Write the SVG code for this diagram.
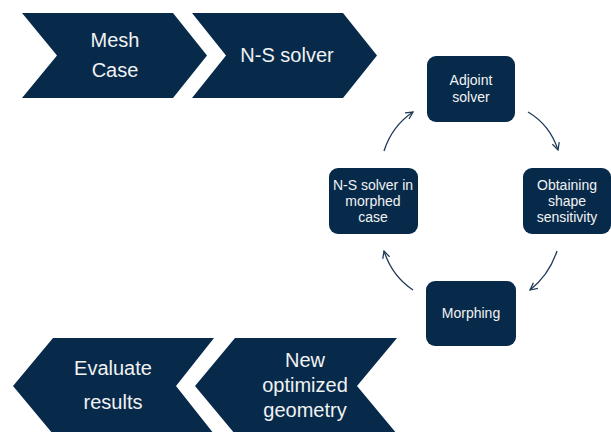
<svg xmlns="http://www.w3.org/2000/svg" width="611" height="432" viewBox="0 0 611 432">
<defs>
<style>
.sh{fill:#072a4b}
.big{font-family:"Liberation Sans",Arial,sans-serif;font-size:20px;fill:#f2f2f2;text-anchor:middle}
.sm{font-family:"Liberation Sans",Arial,sans-serif;font-size:14px;fill:#f2f2f2;text-anchor:middle}
.arr{fill:none;stroke:#1f3a58;stroke-width:1.3;marker-end:url(#ah)}
</style>
<marker id="ah" viewBox="0 0 10 10" refX="9" refY="5" markerWidth="9" markerHeight="9" markerUnits="userSpaceOnUse" orient="auto">
<path d="M1,1 L9,5 L1,9" fill="none" stroke="#1f3a58" stroke-width="1.4"/>
</marker>
</defs>
<rect width="611" height="432" fill="#ffffff"/>
<g id="mesh-case">
<polygon class="sh" points="22,13 173,13 207,55.5 173,98 22,98 57,55.5"/>
<text class="big" x="115" y="47">Mesh</text>
<text class="big" x="115" y="77">Case</text>
</g>
<g id="ns-solver">
<polygon class="sh" points="192,13 343,13 377,55.5 343,98 192,98 226,55.5"/>
<text class="big" x="287" y="62">N-S solver</text>
</g>
<g id="adjoint">
<rect class="sh" x="427" y="56" width="88" height="66" rx="9"/>
<text class="sm" x="471" y="85">Adjoint</text>
<text class="sm" x="471" y="102">solver</text>
</g>
<g id="sensitivity">
<rect class="sh" x="523" y="168" width="88" height="66" rx="9"/>
<text class="sm" x="567" y="190">Obtaining</text>
<text class="sm" x="567" y="206">shape</text>
<text class="sm" x="567" y="222">sensitivity</text>
</g>
<g id="morphing">
<rect class="sh" x="426" y="281" width="90" height="65" rx="9"/>
<text class="sm" x="471" y="318">Morphing</text>
</g>
<g id="ns-morphed">
<rect class="sh" x="329" y="168" width="89" height="66" rx="9"/>
<text class="sm" x="373" y="190">N-S solver in</text>
<text class="sm" x="373" y="206">morphed</text>
<text class="sm" x="373" y="222">case</text>
</g>
<g id="evaluate">
<polygon class="sh" points="13,386 53,338 214,338 176,386 214,434 53,434"/>
<text class="big" x="113" y="375">Evaluate</text>
<text class="big" x="113" y="409">results</text>
</g>
<g id="new-geometry">
<polygon class="sh" points="195,386 235,338 397,338 357,386 397,434 235,434"/>
<text class="big" x="305" y="367">New</text>
<text class="big" x="305" y="392">optimized</text>
<text class="big" x="305" y="417">geometry</text>
</g>
<g id="connectors">
<path class="arr" d="M384,151 Q392,126 413,112"/>
<path class="arr" d="M528,112 Q550,125 558,150"/>
<path class="arr" d="M557,251 Q549,275 530,290"/>
<path class="arr" d="M413,290 Q392,276 384,251"/>
</g>
</svg>
